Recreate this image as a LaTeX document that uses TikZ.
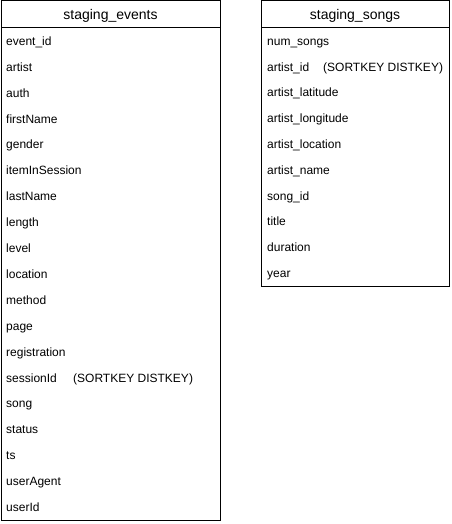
\documentclass[tikz,border=0pt]{standalone}
\usepackage{fontspec}
\setmainfont{Liberation Sans}
\begin{document}
\begin{tikzpicture}[x=1pt,y=-1pt,
  tablebox/.style={draw=black,line width=1pt},
  headtext/.style={font=\fontsize{14}{16}\selectfont,inner sep=0pt,text height=10pt,text depth=0pt,anchor=center},
  rowtext/.style={font=\fontsize{12}{14}\selectfont,inner sep=0pt,text height=8.6pt,text depth=0pt,anchor=west}]
\useasboundingbox (0,0) rectangle (451,524);
% left table
\draw[tablebox] (1,1) rectangle (220,520);
\draw[tablebox] (1,28) -- (220,28);
\node[headtext] (evhead) at (110.5,14.5) {staging\_events};
\foreach \t [count=\i from 0] in {event\_id,artist,auth,firstName,gender,itemInSession,lastName,length,level,location,method,page,registration,sessionId,song,status,ts,userAgent,userId}{
  \node[rowtext] (ev\i) at (6,{41+25.9*\i}) {\t};
}
\node[rowtext] (evkey) at (73,{41+25.9*13}) {(SORTKEY DISTKEY)};
% right table
\draw[tablebox] (261,1) rectangle (449,286);
\draw[tablebox] (261,28) -- (449,28);
\node[headtext] (sghead) at (355,14.5) {staging\_songs};
\foreach \t [count=\i from 0] in {num\_songs,artist\_id,artist\_latitude,artist\_longitude,artist\_location,artist\_name,song\_id,title,duration,year}{
  \node[rowtext] (sg\i) at (267,{41+25.8*\i}) {\t};
}
\node[rowtext] (sgkey) at (323,{41+25.8*1}) {(SORTKEY DISTKEY)};
\end{tikzpicture}
\end{document}
